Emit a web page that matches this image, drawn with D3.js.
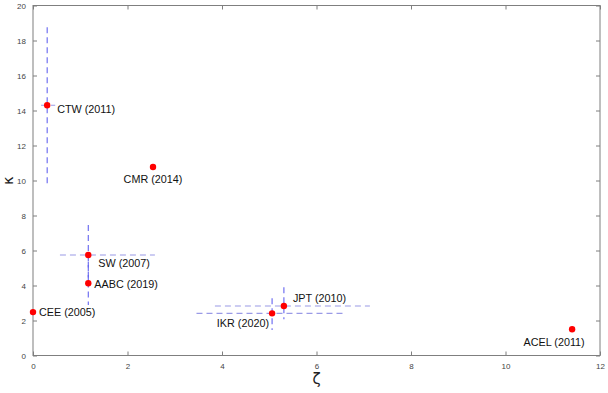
<!DOCTYPE html>
<html><head><meta charset="utf-8">
<script src="https://cdn.jsdelivr.net/npm/d3@7"></script>
<style>body{margin:0;background:#fff}svg{display:block}</style>
</head><body>
<script>
const labels = ["CTW (2011)","CMR (2014)","SW (2007)","AABC (2019)","CEE (2005)","JPT (2010)","IKR (2020)","ACEL (2011)"];
const zeta   = [0.30, 2.54, 1.17, 1.17, 0.00, 5.31, 5.06, 11.41];
const kappa  = [14.30, 10.77, 5.74, 4.13, 2.48, 2.83, 2.41, 1.50];
// error bar extents (null = none)
const zetaLo  = [0.17, null, 0.57, null, null, 3.85, 3.46, null];
const zetaHi  = [0.47, null, 2.58, null, null, 7.13, 6.57, null];
const kappaLo = [9.64, null, 4.00, 2.89, null, 2.07, 1.46, null];
const kappaHi = [18.76, null, 7.46, 5.37, null, 3.90, 3.27, null];
const xTicks = [0,2,4,6,8,10,12];
const yTicks = [0,2,4,6,8,10,12,14,16,18,20];

const W=608,H=393;
const L=33,R=600,T=5.5,B=355.5;
const svg=d3.select("body").append("svg").attr("width",W).attr("height",H);
const x=d3.scaleLinear().domain([0,12]).range([L,R]);
const y=d3.scaleLinear().domain([0,20]).range([B,T]);
const axCol="#7f7f7f";

// box
svg.append("rect").attr("x",L).attr("y",T).attr("width",R-L).attr("height",B-T)
  .attr("fill","none").attr("stroke",axCol).attr("stroke-width",1);

const tf = g=>{g.select(".domain").remove();g.selectAll("line").attr("stroke",axCol);
  g.selectAll("text").attr("fill","#444").attr("font-family","Liberation Sans, Arial, sans-serif").attr("font-size","8px");};
svg.append("g").attr("transform",`translate(0,${B})`)
  .call(d3.axisBottom(x).tickValues(xTicks).tickSize(-4).tickPadding(8).tickFormat(d3.format("d"))).call(tf);
svg.append("g").attr("transform",`translate(0,${T})`)
  .call(d3.axisTop(x).tickValues(xTicks).tickSize(-4).tickFormat("")).call(tf);
svg.append("g").attr("transform",`translate(${L},0)`)
  .call(d3.axisLeft(y).tickValues(yTicks).tickSize(-4).tickPadding(7).tickFormat(d3.format("d"))).call(tf);
svg.append("g").attr("transform",`translate(${R},0)`)
  .call(d3.axisRight(y).tickValues(yTicks).tickSize(-4).tickFormat("")).call(tf);

const idx=d3.range(labels.length);
// horizontal error bars
svg.append("g").selectAll("line").data(idx.filter(i=>zetaLo[i]!==null)).join("line")
  .attr("x1",i=>x(zetaLo[i])).attr("x2",i=>x(zetaHi[i]))
  .attr("y1",i=>y(kappa[i])).attr("y2",i=>y(kappa[i]))
  .attr("stroke","#9a9ae6").attr("stroke-width",1.1).attr("stroke-dasharray","6,4");
// vertical error bars
svg.append("g").selectAll("line").data(idx.filter(i=>kappaLo[i]!==null)).join("line")
  .attr("x1",i=>x(zeta[i])).attr("x2",i=>x(zeta[i]))
  .attr("y1",i=>y(kappaHi[i])).attr("y2",i=>y(kappaLo[i]))
  .attr("stroke","#6464f0").attr("stroke-width",1.1).attr("stroke-dasharray","6,4");
// points
svg.append("g").selectAll("circle").data(idx).join("circle")
  .attr("cx",i=>x(zeta[i])).attr("cy",i=>y(kappa[i])).attr("r",3.2).attr("fill","#ff0000");

// label offsets (dx, dy relative to point, anchor)
const lab = [[10,4,"start"],[0,12,"middle"],[10,8,"start"],[6,1,"start"],[6,0.5,"start"],[9,-8,"start"],[-3,10,"end"],[-18,13,"middle"]];
svg.append("g").selectAll("text").data(idx).join("text")
  .attr("x",i=>x(zeta[i])+lab[i][0]).attr("y",i=>y(kappa[i])+lab[i][1])
  .attr("dy","0.35em").attr("text-anchor",i=>lab[i][2])
  .attr("font-family","Liberation Sans, Arial, sans-serif").attr("font-size","10.8px").attr("fill","#111")
  .text(i=>labels[i]);

svg.append("text").attr("x",(L+R)/2).attr("y",384).attr("text-anchor","middle")
  .attr("font-family","DejaVu Sans, sans-serif").attr("font-size","15px").attr("fill","#222").text("ζ");
svg.append("text").attr("transform",`translate(13,${(T+B)/2}) rotate(-90)`).attr("text-anchor","middle")
  .attr("font-family","DejaVu Sans, sans-serif").attr("font-size","14px").attr("fill","#222").text("κ");
</script>
</body></html>
